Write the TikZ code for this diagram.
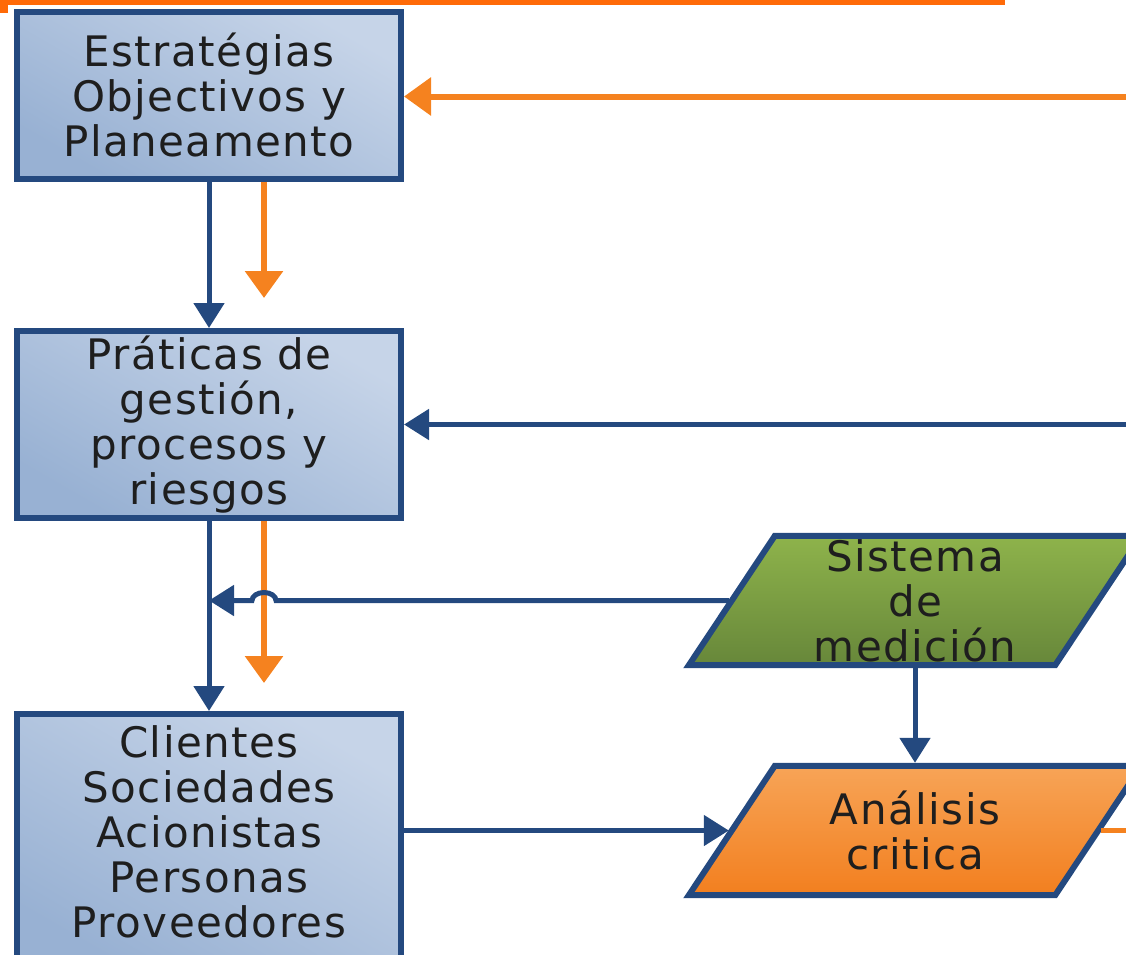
\documentclass[tikz,border=0pt]{standalone}
\usepackage{fontspec}
\setmainfont[LetterSpace=3.5]{DejaVu Sans}
\usetikzlibrary{arrows.meta,backgrounds}
\definecolor{bordblue}{HTML}{24497F}
\definecolor{boxlight}{HTML}{C6D4E8}
\definecolor{boxdark}{HTML}{98B1D3}
\definecolor{grnlight}{HTML}{8EB34B}
\definecolor{grndark}{HTML}{67873A}
\definecolor{orglight}{HTML}{F7A457}
\definecolor{orgdark}{HTML}{F27F1F}
\definecolor{arrorange}{HTML}{F5821F}
\definecolor{barorange}{HTML}{FF6A08}
\definecolor{txtgray}{HTML}{1E1E1E}

\begin{document}
\begin{tikzpicture}[x=1pt,y=-1pt,
  every node/.style={font=\fontsize{42}{45}\selectfont,align=center,text=txtgray},
  box/.style={draw=bordblue,line width=6pt,top color=boxlight,bottom color=boxdark,shading angle=-30,minimum width=384pt,inner sep=0pt},
  slantnode/.style={minimum width=366pt,minimum height=129pt,inner sep=0pt},
  slant/.style={draw=bordblue,line width=6pt,line join=miter,shading angle=-20},
  bluearr/.style={draw=bordblue,line width=5pt,-{Triangle[width=30pt,length=25pt]}},
  orgarr/.style={draw=arrorange,line width=6pt,-{Triangle[width=37pt,length=27pt]}}]
\useasboundingbox (0,0) rectangle (1126,954); \clip (0,0) rectangle (1126,954);
\fill[barorange] (0,0) rectangle (1005,5); \fill[barorange] (0,0) rectangle (8,13);
\node[box,minimum height=167pt] (strat) at (209,95) {Estratégias\\Objectivos y\\Planeamento};
\node[box,minimum height=187pt] (prac) at (209,424.5) {Práticas de\\gestión,\\procesos y\\riesgos};
\node[box,minimum height=256pt,anchor=north] (clien) at (209,711) {Clientes\\Sociedades\\Acionistas\\Personas\\Proveedores\\[-25pt]\mbox{}};
\node[slantnode] (sis) at (915,600.5) {Sistema\\de\\medición};
\node[slantnode] (anal) at (915,830.5) {Análisis\\critica};
\begin{scope}[on background layer]
\foreach \n/\c in {sis/grn,anal/org} { \path[slant,top color=\c light,bottom color=\c dark] ([xshift=-43pt]\n.south west) -- ([xshift=43pt]\n.north west) -- ([xshift=43pt]\n.north east) -- ([xshift=-43pt]\n.south east) -- cycle; };
\end{scope}
\coordinate (r1) at (1126,96.5); \coordinate (r2) at (1126,424.5); \coordinate (r3) at (1126,830.5);
\draw[orgarr] (r1) -- (strat.east |- r1); \draw[bluearr] (r2) -- (prac.east);
\draw[bluearr] (strat) -- (prac); \draw[orgarr,shorten >=30pt] ([xshift=55pt]strat.south) -- ([xshift=55pt]prac.north);
\draw[bluearr] (prac) -- (clien.north); \draw[orgarr,shorten >=28pt] ([xshift=55pt]prac.south) -- ([xshift=55pt]clien.north);
\draw[bluearr,shorten <=3pt] (sis.west) -- ([xshift=67pt]prac.south |- sis.west) arc[start angle=0,end angle=180,x radius=12pt,y radius=8pt] -- (prac.south |- sis.west);
\draw[bluearr,shorten <=3pt,shorten >=3pt] (sis) -- (anal);
\draw[bluearr,shorten >=3pt] (clien.east |- anal.west) -- (anal.west); \draw[draw=arrorange,line width=5pt,shorten <=3pt] (anal.east) -- (r3);
\end{tikzpicture}
\end{document}
